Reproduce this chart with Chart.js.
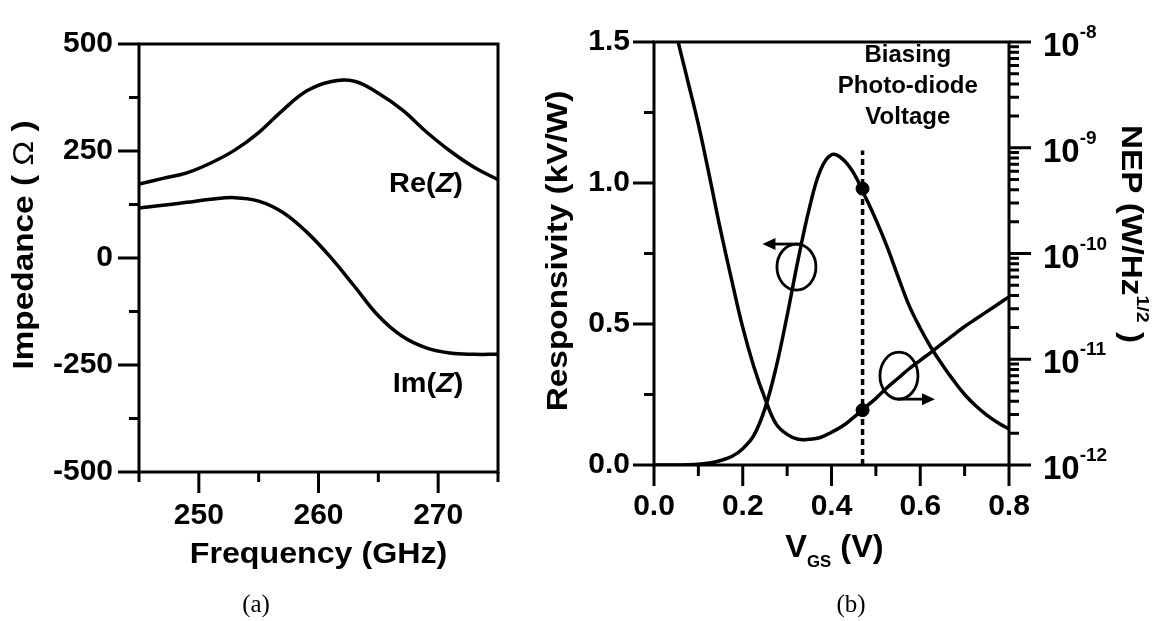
<!DOCTYPE html>
<html>
<head>
<meta charset="utf-8">
<script src="https://cdn.jsdelivr.net/npm/chart.js@4.4.0/dist/chart.umd.min.js"></script>
<style>
  html, body { margin: 0; padding: 0; background: #fff; }
  #wrap { position: relative; width: 1166px; height: 621px; }
  #chartA { position: absolute; left: 0; top: 0; }
  #chartB { position: absolute; left: 530px; top: 0; }
</style>
</head>
<body>
<div id="wrap">
  <canvas id="chartA" width="530" height="621"></canvas>
  <canvas id="chartB" width="636" height="621"></canvas>
</div>
<script>
// ---- (a) impedance vs frequency ----
const freqGHz = [245, 247, 249, 251, 253, 255, 257, 259, 261, 263, 265, 267, 269, 271, 273, 275];
const reZ = [173, 186, 199, 222, 252, 293, 345, 390, 412, 413, 385, 346, 295, 250, 212, 183];
const imZ = [117, 123, 130, 137, 141, 133, 107, 61, 2, -66, -135, -183, -210, -222, -225, -225];
const freqTicks = [250, 260, 270];
const freqMinorTicks = [245, 255, 265, 275];
const impTicks = [-500, -250, 0, 250, 500];
const impMinorTicks = [-375, -125, 125, 375];

// ---- (b) responsivity and NEP vs gate voltage ----
const vgs = [0, 0.025, 0.05, 0.075, 0.1, 0.125, 0.15, 0.175, 0.2, 0.225, 0.25, 0.275, 0.3, 0.325,
  0.35, 0.375, 0.4, 0.425, 0.45, 0.475, 0.5, 0.525, 0.55, 0.575, 0.6, 0.625, 0.65, 0.675, 0.7,
  0.725, 0.75, 0.775, 0.8];
const responsivity = [0, 0, 0, 0.001, 0.003, 0.007, 0.016, 0.03, 0.058, 0.105, 0.2, 0.345, 0.53,
  0.73, 0.91, 1.045, 1.1, 1.085, 1.035, 0.955, 0.87, 0.775, 0.668, 0.565, 0.485, 0.415, 0.355, 0.30,
  0.25, 0.21, 0.177, 0.15, 0.128];
const nep = [null, 3.55e-8, 1.2e-8, 4.47e-9, 1.66e-9, 5.37e-10, 1.66e-10, 5.62e-11, 2.0e-11,
  8.51e-12, 4.27e-12, 2.45e-12, 1.95e-12, 1.75e-12, 1.75e-12, 1.82e-12, 2.04e-12, 2.34e-12,
  2.82e-12, 3.47e-12, 4.27e-12, 5.37e-12, 6.61e-12, 8.13e-12, 9.77e-12, 1.17e-11, 1.41e-11,
  1.70e-11, 2.04e-11, 2.40e-11, 2.82e-11, 3.31e-11, 3.89e-11];
const biasV = 0.47;
const biasResp = 0.98;
const biasNep = 3.3e-12;
const biasLineTop = 1.115;
const vgsTicks = [0, 0.2, 0.4, 0.6, 0.8];
const vgsMinorTicks = [0.1, 0.3, 0.5, 0.7];
const respTicks = [0, 0.5, 1.0, 1.5];
const respMinorTicks = [0.25, 0.75, 1.25];
const nepExponents = [-12, -11, -10, -9, -8];

const FONT = "'Liberation Sans', Arial, sans-serif";
const SERIF = "'Liberation Serif', 'Times New Roman', serif";

function tickMarks(ctx, scale, values, len) {
  const a = scale.chart.chartArea;
  ctx.beginPath();
  values.forEach(v => {
    const p = scale.getPixelForValue(v);
    if (scale.position === 'bottom') {
      ctx.moveTo(p, a.bottom); ctx.lineTo(p, a.bottom + len);
    } else if (scale.position === 'left') {
      ctx.moveTo(a.left, p); ctx.lineTo(a.left - len, p);
    } else {
      ctx.moveTo(a.right, p); ctx.lineTo(a.right + len, p);
    }
  });
  ctx.stroke();
}

// draw text made of pieces (for sub/superscripts and italics), sx stretches it sideways
function drawRuns(ctx, runs, x, y, align, sx) {
  sx = sx || 1;
  let total = 0;
  runs.forEach(r => { ctx.font = r.font; r.w = ctx.measureText(r.t).width; total += r.w; });
  const start = align === 'center' ? x - total * sx / 2 : x;
  ctx.save();
  ctx.translate(start, y);
  ctx.scale(sx, 1);
  ctx.textAlign = 'left';
  ctx.textBaseline = 'alphabetic';
  let cx = 0;
  runs.forEach(r => { ctx.font = r.font; ctx.fillText(r.t, cx, r.dy || 0); cx += r.w; });
  ctx.restore();
}

function loopArrow(ctx, cx, cy, rx, ry, toLeft) {
  ctx.beginPath();
  ctx.ellipse(cx, cy, rx, ry, 0, 0, Math.PI * 2);
  ctx.stroke();
  let y0, x0, x1;
  if (toLeft) { y0 = cy - ry; x0 = cx + 5; x1 = cx - 34; }
  else { y0 = cy + ry; x0 = cx - 2; x1 = cx + 36; }
  const dir = toLeft ? -1 : 1;
  ctx.beginPath();
  ctx.moveTo(x0, y0); ctx.lineTo(x1 - dir * 10, y0);
  ctx.stroke();
  ctx.beginPath();
  ctx.moveTo(x1, y0);
  ctx.lineTo(x1 - dir * 13, y0 - 6);
  ctx.lineTo(x1 - dir * 13, y0 + 6);
  ctx.closePath();
  ctx.fill();
}

const frameA = {
  id: 'frameA',
  afterDraw(chart) {
    const { ctx, chartArea: a, scales: { x, y } } = chart;
    ctx.save();
    ctx.strokeStyle = '#000';
    ctx.fillStyle = '#000';
    ctx.lineWidth = 3;
    ctx.strokeRect(a.left, a.top, a.right - a.left, a.bottom - a.top);
    tickMarks(ctx, x, freqTicks, 21);
    tickMarks(ctx, x, freqMinorTicks, 10);
    tickMarks(ctx, y, impTicks, 21);
    tickMarks(ctx, y, impMinorTicks, 10);

    // curve labels
    drawRuns(ctx, [
      { t: 'Re(', font: 'bold 27px ' + FONT },
      { t: 'Z', font: 'italic bold 27px ' + FONT },
      { t: ')', font: 'bold 27px ' + FONT }
    ], x.getPixelForValue(265.9), y.getPixelForValue(155), 'left', 1.07);
    drawRuns(ctx, [
      { t: 'Im(', font: 'bold 27px ' + FONT },
      { t: 'Z', font: 'italic bold 27px ' + FONT },
      { t: ')', font: 'bold 27px ' + FONT }
    ], x.getPixelForValue(266.2), y.getPixelForValue(-312), 'left', 1.07);

    // axis titles
    drawRuns(ctx, [{ t: 'Frequency (GHz)', font: 'bold 29px ' + FONT }],
      (a.left + a.right) / 2, 563, 'center', 1.11);
    ctx.save();
    ctx.translate(33, 245);
    ctx.rotate(-Math.PI / 2);
    drawRuns(ctx, [
      { t: 'Impedance ( ', font: 'bold 29px ' + FONT },
      { t: 'Ω', font: '29px ' + FONT },
      { t: ' )', font: 'bold 29px ' + FONT }
    ], 0, 0, 'center', 1.15);
    ctx.restore();

    drawRuns(ctx, [{ t: '(a)', font: '25px ' + SERIF }], 256, 612, 'center');
    ctx.restore();
  }
};

const frameB = {
  id: 'frameB',
  afterDraw(chart) {
    const { ctx, chartArea: a, scales: { x, y, y2 } } = chart;
    ctx.save();
    ctx.strokeStyle = '#000';
    ctx.fillStyle = '#000';
    ctx.lineWidth = 3;
    ctx.strokeRect(a.left, a.top, a.right - a.left, a.bottom - a.top);
    tickMarks(ctx, x, vgsTicks, 21);
    tickMarks(ctx, x, vgsMinorTicks, 11);
    tickMarks(ctx, y, respTicks, 21);
    tickMarks(ctx, y, respMinorTicks, 10);
    const decades = nepExponents.map(e => Math.pow(10, e));
    tickMarks(ctx, y2, decades, 22);
    const minors = [];
    nepExponents.slice(0, -1).forEach(e => {
      for (let m = 2; m <= 9; m++) minors.push(m * Math.pow(10, e));
    });
    tickMarks(ctx, y2, minors, 10);

    // log axis labels 10^n
    nepExponents.forEach(e => {
      const py = y2.getPixelForValue(Math.pow(10, e));
      drawRuns(ctx, [
        { t: '10', font: 'bold 33px ' + FONT },
        { t: String(e), font: 'bold 19px ' + FONT, dy: -18 }
      ], a.right + 34, py + 14, 'left');
    });

    // bias annotation
    const bx = x.getPixelForValue(0.572);
    ['Biasing', 'Photo-diode', 'Voltage'].forEach((s, i) => {
      drawRuns(ctx, [{ t: s, font: 'bold 24px ' + FONT }], bx, 62 + i * 31, 'center');
    });

    // loops with arrows pointing to the axes
    ctx.lineWidth = 2.8;
    loopArrow(ctx, x.getPixelForValue(0.321), y.getPixelForValue(0.702), 19.5, 23, true);
    loopArrow(ctx, x.getPixelForValue(0.552), y2.getPixelForValue(7.0e-12), 19, 23.5, false);

    // axis titles
    drawRuns(ctx, [
      { t: 'V', font: 'bold 31px ' + FONT },
      { t: 'GS', font: 'bold 16px ' + FONT, dy: 10 },
      { t: ' (V)', font: 'bold 31px ' + FONT }
    ], (a.left + a.right) / 2 + 3, 557, 'center', 1.05);

    ctx.save();
    ctx.translate(37, 251);
    ctx.rotate(-Math.PI / 2);
    drawRuns(ctx, [{ t: 'Responsivity (kV/W)', font: 'bold 29px ' + FONT }], 0, 0, 'center', 1.15);
    ctx.restore();

    ctx.save();
    ctx.translate(592, 234);
    ctx.rotate(Math.PI / 2);
    drawRuns(ctx, [
      { t: 'NEP (W/Hz', font: 'bold 29px ' + FONT },
      { t: '1/2', font: 'bold 17px ' + FONT, dy: -15 },
      { t: ' )', font: 'bold 29px ' + FONT }
    ], 0, 0, 'center', 1.15);
    ctx.restore();

    drawRuns(ctx, [{ t: '(b)', font: '25px ' + SERIF }], 321, 612, 'center');
    ctx.restore();
  }
};

function tickFont() {
  return { family: FONT, size: 30, weight: 'bold' };
}

const lineStyle = {
  borderColor: '#000',
  borderWidth: 3.5,
  pointRadius: 0,
  fill: false,
  tension: 0.4
};

new Chart(document.getElementById('chartA'), {
  type: 'line',
  data: {
    datasets: [
      Object.assign({ label: 'Re(Z)', data: freqGHz.map((f, i) => ({ x: f, y: reZ[i] })) }, lineStyle),
      Object.assign({ label: 'Im(Z)', data: freqGHz.map((f, i) => ({ x: f, y: imZ[i] })) }, lineStyle)
    ]
  },
  options: {
    responsive: false,
    animation: false,
    layout: { padding: { top: 26, right: 32, left: 0, bottom: 0 } },
    plugins: { legend: { display: false }, tooltip: { enabled: false } },
    scales: {
      x: {
        type: 'linear', min: 245, max: 275,
        grid: { display: false, drawTicks: false }, border: { display: false },
        ticks: { font: tickFont(), color: '#000', padding: 26 },
        afterBuildTicks: s => { s.ticks = freqTicks.map(v => ({ value: v })); },
        afterFit: s => { s.height = 149; }
      },
      y: {
        type: 'linear', min: -500, max: 500,
        grid: { display: false, drawTicks: false }, border: { display: false },
        ticks: { font: tickFont(), color: '#000', padding: 26 },
        afterBuildTicks: s => { s.ticks = impTicks.map(v => ({ value: v })); },
        afterFit: s => { s.width = 139; }
      }
    }
  },
  plugins: [frameA]
});

new Chart(document.getElementById('chartB'), {
  type: 'line',
  data: {
    datasets: [
      Object.assign({ label: 'Responsivity', yAxisID: 'y',
        data: vgs.map((v, i) => ({ x: v, y: responsivity[i] })) }, lineStyle),
      Object.assign({ label: 'NEP', yAxisID: 'y2',
        data: vgs.map((v, i) => ({ x: v, y: nep[i] })) }, lineStyle),
      { label: 'bias', yAxisID: 'y', data: [{ x: biasV, y: 0 }, { x: biasV, y: biasLineTop }],
        borderColor: '#000', borderWidth: 3.5, borderDash: [6, 4], pointRadius: 0, fill: false },
      { label: 'biasResp', yAxisID: 'y', data: [{ x: biasV, y: biasResp }], showLine: false,
        pointRadius: 6.5, pointBackgroundColor: '#000', pointBorderColor: '#000' },
      { label: 'biasNep', yAxisID: 'y2', data: [{ x: biasV, y: biasNep }], showLine: false,
        pointRadius: 6.5, pointBackgroundColor: '#000', pointBorderColor: '#000' }
    ]
  },
  options: {
    responsive: false,
    animation: false,
    layout: { padding: { top: 27, right: 0, left: 0, bottom: 0 } },
    plugins: { legend: { display: false }, tooltip: { enabled: false } },
    scales: {
      x: {
        type: 'linear', min: 0, max: 0.8,
        grid: { display: false, drawTicks: false }, border: { display: false },
        ticks: { font: tickFont(), color: '#000', padding: 24, callback: v => v.toFixed(1) },
        afterBuildTicks: s => { s.ticks = vgsTicks.map(v => ({ value: v })); },
        afterFit: s => { s.height = 156; }
      },
      y: {
        type: 'linear', position: 'left', min: 0, max: 1.5,
        grid: { display: false, drawTicks: false }, border: { display: false },
        ticks: { font: tickFont(), color: '#000', padding: 24, callback: v => v.toFixed(1) },
        afterBuildTicks: s => { s.ticks = respTicks.map(v => ({ value: v })); },
        afterFit: s => { s.width = 124; }
      },
      y2: {
        type: 'logarithmic', position: 'right', min: 1e-12, max: 1e-8,
        grid: { display: false, drawTicks: false }, border: { display: false },
        ticks: { display: false },
        afterBuildTicks: s => { s.ticks = nepExponents.map(e => ({ value: Math.pow(10, e) })); },
        afterFit: s => { s.width = 157; }
      }
    }
  },
  plugins: [frameB]
});
</script>
</body>
</html>
